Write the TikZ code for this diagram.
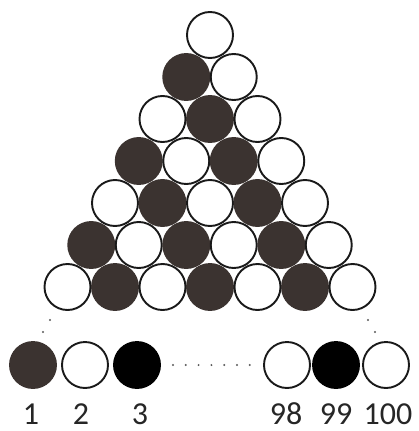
\documentclass[tikz,border=0pt]{standalone}
\usepackage{fontspec}
\setmainfont{Carlito}
\definecolor{darkball}{HTML}{3B3330}
\begin{document}
\begin{tikzpicture}[x=1pt,y=-1pt,
  ball/.style={circle,draw=black!90,line width=1.9pt,minimum size=46pt,inner sep=0pt},
  wball/.style={ball,fill=white},
  dball/.style={ball,fill=darkball,draw=darkball},
  bball/.style={ball,fill=black,draw=black},
  num/.style={font=\fontsize{32}{34}\selectfont,text=black!85,inner sep=0pt,anchor=base},
  dotline/.style={line width=2.2pt,dash pattern=on 0pt off 12.8pt,line cap=round,draw=black!65}]
\useasboundingbox (0,0) rectangle (418,431);
\foreach \r in {1,...,7}{
  \foreach \k in {1,...,\r}{
    \pgfmathtruncatemacro{\odd}{mod(\r-\k,2)}
    \pgfmathsetmacro{\xx}{210+(\k-(\r+1)/2)*47.5}
    \pgfmathsetmacro{\yy}{35+(\r-1)*42}
    \ifnum\odd=1
      \node[dball] (t-\r-\k) at (\xx,\yy) {};
    \else
      \node[wball] (t-\r-\k) at (\xx,\yy) {};
    \fi
  }
}
\node[dball] (b1) at (33,365) {};
\node[wball] (b2) at (85,365) {};
\node[bball] (b3) at (137,365) {};
\node[wball] (b98) at (287,365) {};
\node[bball] (b99) at (336,365) {};
\node[wball] (b100) at (386,365) {};
\coordinate (d1) at (173,365);
\coordinate (d2) at (250,365);
\draw[dotline] (d1) -- (d2);
\coordinate (l1) at (50,320);
\coordinate (l2) at (43,332);
\coordinate (r1) at (368,320);
\coordinate (r2) at (375,332);
\fill[black!65] (l1) circle (1.1pt) (l2) circle (1.1pt) (r1) circle (1.1pt) (r2) circle (1.1pt);
\node[num] (n1) at (31,424) {1};
\node[num] (n2) at (81,424) {2};
\node[num] (n3) at (140,424) {3};
\node[num] (n98) at (286,424) {98};
\node[num] (n99) at (336,424) {99};
\node[num] (n100) at (388,424) {100};
\end{tikzpicture}
\end{document}
